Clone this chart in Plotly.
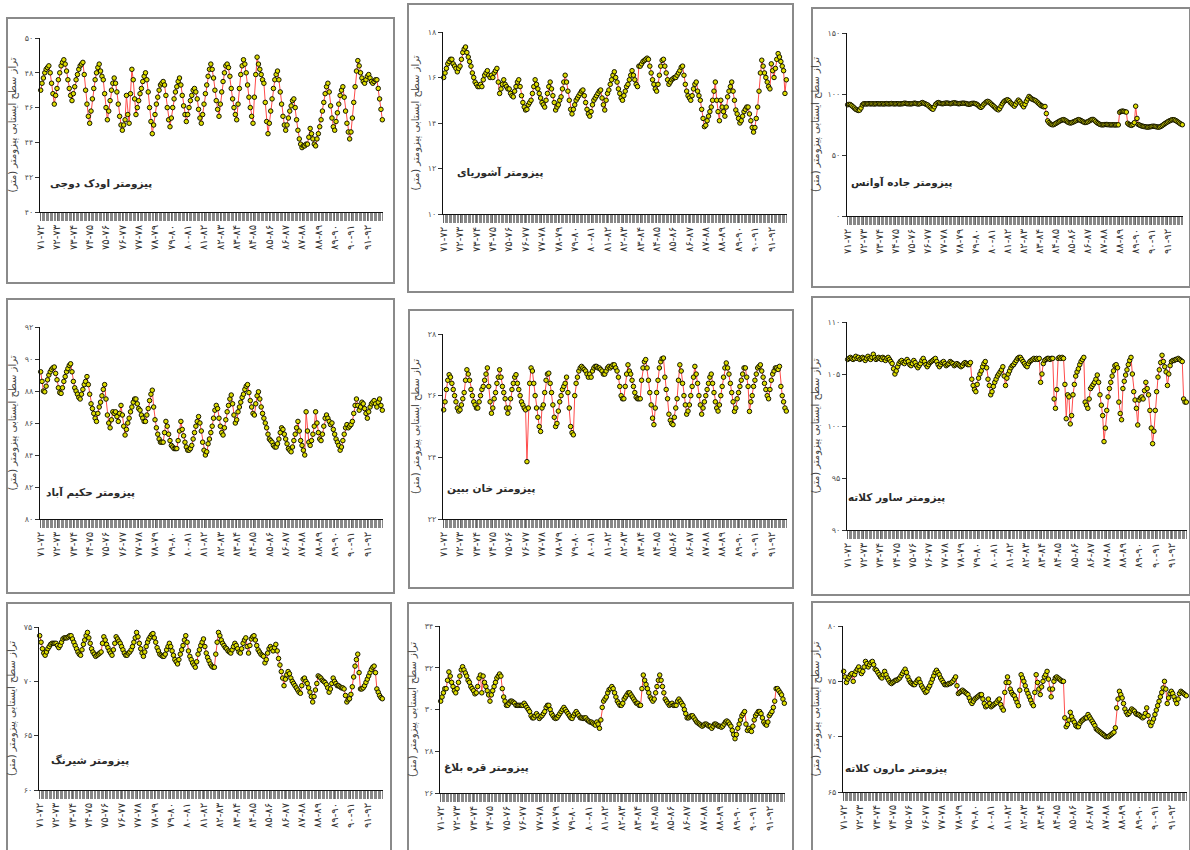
import plotly.graph_objects as go

# ---------------- data ----------------
YEAR_LABELS = ["۷۱-۷۲", "۷۲-۷۳", "۷۳-۷۴", "۷۴-۷۵", "۷۵-۷۶", "۷۶-۷۷", "۷۷-۷۸",
               "۷۸-۷۹", "۷۹-۸۰", "۸۰-۸۱", "۸۱-۸۲", "۸۲-۸۳", "۸۳-۸۴", "۸۴-۸۵",
               "۸۵-۸۶", "۸۶-۸۷", "۸۷-۸۸", "۸۸-۸۹", "۸۹-۹۰", "۹۰-۹۱", "۹۱-۹۲"]

TITLES = ["پیزومتر اودک دوجی", "پیزومتر آشوریای", "پیزومتر جاده آوانس",
          "پیزومتر حکیم آباد", "پیزومتر خان ببین", "پیزومتر ساور کلاته",
          "پیزومتر شیرنگ", "پیزومتر قره بلاغ", "پیزومتر مارون کلاته"]

Y_TITLE = "تراز سطح ایستابی پیزومتر (متر)"

ODAK_DOJI = [
    47.0, 47.4, 47.7, 48.0, 48.2, 48.3, 48.4, 48.0, 47.4, 46.8, 46.2, 46.7,
    47.1, 47.6, 48.0, 48.4, 48.6, 48.75, 48.5, 48.1, 47.6, 47.1, 46.7, 46.4,
    46.8, 47.2, 47.6, 47.9, 48.2, 48.4, 48.5, 48.6, 47.9, 47.0, 46.2, 45.5,
    45.1, 45.8, 46.5, 47.1, 47.6, 48.0, 48.3, 48.5, 48.1, 47.8, 47.6, 46.8,
    46.0, 45.3, 45.8, 46.4, 47.0, 47.4, 47.7, 47.4, 46.9, 46.2, 45.5, 45.0,
    44.7, 45.0, 45.3, 46.7, 45.6, 45.1, 46.8, 48.2, 47.6, 46.5, 45.6, 46.0,
    46.4, 46.8, 47.1, 47.5, 47.8, 48.0, 47.6, 46.9, 46.0, 45.2, 44.5, 45.0,
    45.6, 46.2, 46.6, 47.0, 47.3, 47.4, 47.5, 47.3, 46.7, 46.0, 45.3, 44.9,
    45.4, 46.0, 46.5, 46.9, 47.2, 47.5, 47.7, 47.3, 46.7, 46.1, 45.6, 45.2,
    45.6, 46.0, 46.4, 46.7, 47.0, 47.1, 46.9, 46.5, 45.9, 45.4, 45.1, 45.6,
    46.2, 46.8, 47.3, 47.8, 48.2, 48.5, 48.2, 47.7, 47.0, 46.4, 45.9, 45.5,
    46.2, 46.9, 47.5, 48.0, 48.4, 48.5, 48.3, 47.8, 47.1, 46.5, 46.0, 45.6,
    45.3, 46.2, 47.1, 47.9, 48.4, 48.75, 48.5, 48.0, 47.3, 46.6, 46.0, 45.5,
    45.1, 46.6, 47.9, 48.9, 48.5, 48.2, 47.9, 47.6, 47.4, 46.3, 45.2, 44.5,
    45.1, 45.8, 46.5, 47.1, 47.6, 47.9, 48.1, 47.6, 46.9, 46.2, 45.5, 45.0,
    44.7, 45.0, 45.4, 45.8, 46.1, 46.4, 46.5, 46.0, 45.3, 44.7, 44.2, 43.9,
    43.7, 43.8, 43.8, 43.9, 43.9, 44.3, 44.8, 44.5, 44.2, 43.9, 43.8, 44.2,
    44.5, 44.9, 45.3, 45.8, 46.3, 46.8, 47.2, 47.4, 46.9, 46.1, 45.4, 44.9,
    44.7, 45.2, 45.7, 46.2, 46.7, 47.0, 47.2, 46.6, 45.8, 45.1, 44.6, 44.2,
    44.6, 45.4, 46.3, 47.2, 48.1, 48.7, 48.4, 48.0, 47.7, 47.5, 47.4, 47.6,
    47.8, 47.9, 47.7, 47.5, 47.4, 47.5, 47.6, 47.6, 47.1, 46.5, 45.9, 45.3,
]

ASHURIAY = [
    16.0, 16.2, 16.4, 16.6, 16.7, 16.8, 16.8, 16.6, 16.5, 16.4, 16.25, 16.4,
    16.5, 16.8, 17.1, 17.25, 17.34, 17.1, 16.9, 16.7, 16.5, 16.2, 16.0, 15.8,
    15.7, 15.6, 15.6, 15.7, 15.6, 15.9, 16.1, 16.2, 16.3, 16.1, 16.0, 16.1,
    16.0, 16.2, 16.3, 16.4, 15.8, 15.3, 15.5, 15.7, 15.9, 15.7, 15.6, 15.5,
    15.5, 15.3, 15.2, 15.15, 15.4, 15.6, 15.8, 15.9, 15.6, 15.2, 14.9, 14.7,
    14.57, 14.6, 14.8, 14.9, 15.0, 15.3, 15.6, 15.9, 15.7, 15.5, 15.3, 15.1,
    14.9, 14.8, 14.7, 15.0, 15.3, 15.6, 15.8, 15.5, 15.2, 14.9, 14.57, 14.7,
    14.8, 15.0, 15.15, 15.5, 15.8, 16.1, 15.8, 15.4, 15.0, 14.6, 14.4, 14.6,
    14.8, 15.0, 15.1, 15.2, 15.3, 15.4, 15.45, 15.2, 14.9, 14.6, 14.4, 14.3,
    14.5, 14.8, 15.0, 15.1, 15.2, 15.3, 15.4, 15.45, 15.1, 14.8, 14.57, 15.0,
    15.3, 15.45, 15.7, 15.9, 16.1, 16.25, 16.0, 15.8, 15.5, 15.3, 15.1, 15.0,
    15.2, 15.4, 15.6, 15.7, 15.9, 16.1, 16.3, 16.1, 15.9, 15.7, 15.6, 16.5,
    16.5, 16.6, 16.7, 16.75, 16.8, 16.85, 16.8, 16.5, 16.2, 15.9, 15.7, 15.5,
    15.4, 15.7, 16.1, 16.5, 16.75, 16.8, 16.5, 16.2, 15.9, 15.7, 15.8, 15.9,
    15.95, 16.0, 16.0, 16.1, 16.2, 16.3, 16.45, 16.5, 16.1, 15.7, 15.4, 15.2,
    15.1, 15.0, 15.2, 15.5, 15.7, 15.8, 15.4, 15.2, 15.0, 14.6, 14.2, 13.84,
    13.9, 14.1, 14.3, 14.5, 14.7, 15.0, 15.4, 15.8, 15.0, 14.5, 14.1, 15.0,
    14.7, 14.5, 14.3, 14.7, 15.15, 15.4, 15.6, 15.8, 15.4, 15.0, 14.57, 14.4,
    14.2, 14.0, 14.1, 14.3, 14.5, 14.6, 14.7, 14.7, 14.4, 14.1, 13.8, 13.6,
    13.8, 14.2, 14.7, 15.4, 16.2, 16.76, 16.5, 16.2, 16.0, 15.8, 15.6, 15.5,
    16.6, 16.3, 16.0, 16.4, 16.8, 17.05, 16.9, 16.7, 16.5, 16.3, 15.3, 15.9,
]

JADEH_AVANES = [
    91.2, 91.5, 91.3, 90.5, 89.5, 88.5, 87.5, 87.0, 86.5, 86.8, 88.5, 91.0,
    92.0, 92.0, 91.8, 92.0, 92.1, 91.9, 92.0, 92.0, 91.8, 92.0, 92.1, 92.0,
    91.9, 92.0, 92.0, 91.8, 92.0, 92.1, 92.0, 91.9, 92.0, 92.2, 92.0, 91.9,
    92.0, 92.1, 92.0, 91.8, 92.0, 92.0, 92.3, 92.5, 92.2, 92.0, 92.0, 91.9,
    92.0, 92.2, 92.5, 92.3, 92.0, 91.8, 92.0, 92.4, 93.0, 92.5, 92.0, 91.5,
    91.0, 90.0, 89.0, 88.0, 87.5, 89.5, 91.5, 92.5, 93.0, 92.6, 92.2, 92.0,
    92.2, 92.4, 92.6, 92.5, 92.3, 92.0, 92.3, 92.6, 92.8, 92.5, 92.3, 92.0,
    92.1, 92.3, 92.4, 92.5, 92.3, 92.1, 91.8, 91.5, 91.8, 92.2, 92.4, 92.3,
    92.0, 91.5, 90.5, 89.5, 89.0, 90.0, 91.5, 92.5, 93.5, 94.0, 93.5, 92.5,
    91.5, 90.5, 89.5, 88.5, 87.5, 87.0, 88.0, 90.0, 92.0, 93.5, 94.5, 95.0,
    95.3, 94.5, 93.0, 92.0, 91.0, 90.0, 91.5, 93.5, 95.0, 94.0, 92.5, 91.0,
    89.5, 91.5, 94.0, 96.0, 98.0, 97.0, 96.0, 95.5, 95.0, 94.5, 93.5, 92.5,
    91.5, 90.5, 90.0, 89.5, 89.8, 84.0, 78.0, 76.5, 75.5, 75.0, 74.7, 75.2,
    75.8, 76.5, 77.2, 77.8, 78.3, 78.8, 79.0, 78.5, 77.8, 77.0, 76.5, 76.2,
    76.5, 77.0, 77.5, 78.0, 78.5, 79.0, 78.8, 78.2, 77.6, 77.0, 76.6, 76.8,
    77.2, 77.8, 78.5, 79.0, 79.2, 78.5, 77.5, 76.5, 75.8, 75.2, 74.8, 74.7,
    74.8, 75.0, 75.0, 74.9, 74.8, 74.7, 74.7, 74.8, 74.7, 74.6, 74.8, 74.7,
    85.0, 85.7, 86.0, 85.8, 85.5, 85.2, 76.0, 75.0, 74.5, 74.3, 75.0, 76.5,
    90.0, 80.0, 75.0, 74.5, 74.0, 73.6, 73.4, 73.2, 73.0, 72.8, 73.0, 73.2,
    73.4, 73.6, 73.5, 73.3, 73.0, 72.8, 73.0, 73.5, 74.2, 75.0, 75.8, 76.5,
    77.2, 77.8, 78.3, 78.8, 79.0, 78.8, 78.3, 77.6, 76.8, 76.0, 75.3, 74.8,
]

HAKIM_ABAD = [
    89.2, 88.6, 88.0, 87.95, 88.3, 88.7, 89.0, 89.2, 89.35, 89.45, 89.5, 89.1,
    88.7, 88.2, 87.9, 87.85, 88.2, 88.6, 88.9, 89.2, 89.4, 89.6, 89.7, 89.2,
    88.6, 88.2, 88.0, 87.8, 87.6, 87.5, 87.8, 88.1, 88.4, 88.6, 88.9, 88.4,
    87.8, 87.2, 86.9, 86.6, 86.3, 86.1, 86.6, 87.0, 87.3, 87.7, 88.1, 88.4,
    87.5, 86.5, 86.0, 85.7, 86.2, 86.7, 86.6, 86.7, 86.4, 86.1, 86.6, 87.1,
    86.5, 85.8, 85.25, 85.6, 86.0, 86.3, 86.7, 87.0, 87.3, 87.5, 87.5, 87.2,
    86.9, 86.8, 86.5, 86.3, 86.1, 86.1, 86.5, 86.9, 87.4, 87.8, 88.05, 87.0,
    86.2, 85.7, 85.3, 85.0, 84.8, 84.8, 84.8, 85.4, 86.1, 85.8, 85.3, 84.9,
    84.6, 84.5, 84.4, 84.4, 84.4, 84.9, 85.5, 86.1, 85.6, 85.2, 84.8, 84.5,
    84.3, 84.3, 84.4, 84.6, 85.0, 85.4, 85.8, 86.1, 86.4, 86.0, 85.5, 84.8,
    84.3, 84.0, 84.2, 84.7, 85.0, 85.4, 85.8, 86.3, 86.8, 87.1, 86.9, 86.3,
    85.8, 85.4, 85.25, 85.7, 86.2, 86.7, 87.1, 87.5, 87.75, 87.2, 86.5, 86.0,
    86.2, 86.7, 87.0, 87.3, 87.6, 87.8, 88.1, 88.3, 88.4, 87.9, 87.4, 87.0,
    86.6, 86.5, 87.2, 87.7, 87.95, 87.5, 87.0, 86.6, 86.3, 86.0, 85.7, 85.3,
    85.0, 84.9, 84.8, 84.6, 84.5, 84.5, 84.7, 85.0, 85.4, 85.7, 85.6, 85.3,
    85.0, 84.7, 84.4, 84.3, 84.2, 84.5, 84.9, 85.3, 85.7, 86.1, 85.5, 84.9,
    84.6, 84.3, 84.0, 86.7, 85.5, 84.8, 84.6, 84.9, 85.3, 85.8, 86.7, 86.0,
    85.4, 85.0, 84.9, 85.3, 85.8, 86.3, 86.5, 86.3, 86.1, 85.9, 86.0, 85.6,
    85.3, 85.0, 84.8, 84.6, 84.3, 84.5, 84.9, 85.3, 85.7, 85.9, 85.7, 85.8,
    85.9, 86.1, 86.6, 87.1, 87.5, 87.1, 86.8, 87.0, 87.3, 87.2, 86.9, 86.6,
    86.3, 86.7, 87.0, 87.2, 87.3, 87.4, 87.2, 87.0, 87.3, 87.5, 87.1, 86.8,
]

KHAN_BEBIN = [
    25.54, 25.8, 26.2, 26.5, 26.68, 26.6, 26.4, 26.2, 26.0, 25.8, 25.6, 25.5,
    25.54, 25.7, 25.9, 26.1, 26.5, 26.84, 26.7, 26.5, 26.2, 26.0, 25.8, 25.7,
    25.6, 25.6, 25.8, 26.0, 26.2, 26.3, 26.5, 26.7, 26.9, 26.3, 25.8, 25.43,
    25.6, 25.9, 26.1, 26.4, 26.6, 26.84, 26.6, 26.3, 26.1, 25.9, 25.6, 25.43,
    25.6, 25.9, 26.2, 26.4, 26.6, 26.68, 26.4, 26.2, 26.0, 25.8, 25.7, 25.6,
    25.54, 23.86, 25.6, 26.4, 26.9, 26.8, 26.4, 26.0, 25.6, 25.3, 25.0, 24.84,
    25.6, 25.7, 26.1, 26.5, 26.7, 26.73, 26.4, 26.1, 25.7, 25.3, 25.0, 25.1,
    25.5, 25.8, 26.0, 26.2, 26.3, 26.4, 26.6, 26.1, 25.6, 25.0, 24.8, 24.73,
    26.0, 26.4, 26.6, 26.8, 26.9, 26.95, 26.9, 26.85, 26.8, 26.7, 26.6, 26.7,
    26.6, 26.8, 26.9, 26.95, 26.95, 26.9, 26.9, 26.85, 26.8, 26.7, 26.7, 26.8,
    26.9, 26.95, 26.9, 26.95, 27.0, 27.0, 26.9, 26.8, 26.6, 26.3, 26.0, 25.9,
    25.9, 26.3, 26.7, 27.0, 26.8, 26.7, 26.5, 26.3, 26.1, 25.95, 25.9, 25.9,
    25.9, 26.5, 26.9, 27.1, 27.17, 26.9, 26.5, 26.1, 25.7, 25.27, 25.06, 25.6,
    26.1, 26.5, 26.9, 27.1, 27.2, 27.22, 26.6, 26.2, 25.9, 25.4, 25.2, 25.1,
    25.06, 25.3, 25.6, 25.9, 26.5, 27.0, 26.8, 26.4, 26.0, 25.7, 25.4, 25.5,
    25.7, 26.0, 26.3, 26.6, 26.95, 26.7, 26.4, 26.0, 25.7, 25.4, 25.6, 25.8,
    26.0, 26.2, 26.4, 26.6, 26.7, 26.4, 26.1, 25.8, 25.6, 25.5, 25.7, 26.0,
    26.3, 26.6, 26.9, 27.06, 26.9, 26.7, 26.4, 26.1, 25.8, 25.49, 25.6, 25.9,
    26.1, 26.3, 26.5, 26.7, 26.9, 26.9, 26.6, 26.3, 25.49, 25.8, 26.0, 26.3,
    26.5, 26.7, 26.9, 26.95, 27.0, 26.8, 26.6, 26.4, 26.2, 26.0, 25.9, 26.2,
    26.5, 26.7, 26.8, 26.9, 26.9, 26.85, 26.95, 26.3, 26.0, 25.8, 25.6, 25.5,
]

SAVAR_KALATEH = [
    106.4, 106.5, 106.6, 106.5, 106.4, 106.5, 106.7, 106.5, 106.6, 106.4, 106.5, 106.6,
    106.5, 106.3, 106.5, 106.7, 106.5, 106.4, 106.6, 106.9, 106.6, 106.4, 106.5, 106.6,
    106.5, 106.4, 106.6, 106.5, 106.3, 106.5, 106.6, 106.4, 106.2, 106.0, 105.5, 105.0,
    105.3, 105.7, 106.0, 106.2, 106.3, 106.1, 106.0, 106.2, 106.4, 106.2, 105.9, 105.8,
    106.0, 106.3, 106.1, 105.8, 105.6, 105.8, 106.0, 106.3, 106.5, 106.2, 105.9, 105.7,
    105.9, 106.1, 106.2, 106.3, 106.4, 106.5, 106.2, 105.9, 105.7, 105.9, 106.1, 106.2,
    106.0, 105.8, 105.9, 106.0, 106.2, 106.1, 106.0, 105.8, 105.9, 106.0, 105.9, 105.8,
    105.7, 105.8, 106.0, 106.1, 106.0, 105.9, 105.9, 106.1, 104.5, 103.9, 103.5, 103.3,
    104.0, 104.6, 105.0, 105.3, 105.7, 106.0, 106.2, 105.6, 104.5, 103.9, 103.0, 103.3,
    103.8, 104.2, 104.5, 104.8, 105.0, 105.2, 105.4, 105.7, 104.8, 103.9, 104.6, 105.0,
    105.3, 105.6, 105.8, 105.9, 106.1, 106.3, 106.5, 106.6, 106.6, 106.4, 106.2, 106.0,
    105.8, 105.7, 106.0, 106.2, 106.3, 106.4, 106.5, 106.4, 106.5, 106.4, 106.5, 104.2,
    105.0, 106.0, 106.3, 106.4, 106.5, 106.5, 106.4, 106.5, 106.5, 102.6, 101.7, 103.5,
    106.5, 106.6, 106.5, 106.6, 106.5, 104.0, 100.7, 103.0, 102.8, 100.2, 101.0, 103.0,
    104.0, 104.8, 105.2, 105.5, 105.9, 106.2, 106.4, 106.6, 102.3, 102.0, 101.7, 102.6,
    103.6, 103.8, 104.0, 104.2, 104.5, 104.9, 104.2, 103.0, 102.0, 101.0, 98.5, 99.8,
    101.5, 102.8, 103.6, 104.2, 104.8, 105.3, 105.8, 105.9, 105.6, 102.3, 101.2, 100.6,
    103.6, 104.3, 104.9, 105.4, 105.9, 106.3, 106.6, 105.0, 103.3, 102.5, 101.7, 100.1,
    102.5, 102.7, 102.8, 102.6, 103.4, 104.2, 103.6, 103.0, 101.5, 99.8, 98.3, 99.5,
    101.5, 103.3, 104.7, 105.4, 106.1, 106.8, 106.2, 105.7, 105.2, 103.9, 105.0, 105.8,
    106.2, 106.3, 106.3, 106.4, 106.4, 106.5, 106.4, 106.3, 106.2, 102.6, 102.3, 102.3,
]

SHIRANG = [
    74.2, 73.6, 73.0, 72.6, 72.4, 72.7, 73.0, 73.2, 73.4, 73.5, 73.5, 73.5,
    73.5, 73.3, 73.1, 73.3, 73.6, 73.9, 74.0, 74.0, 74.0, 74.1, 74.2, 74.2,
    73.9, 73.6, 73.3, 73.0, 72.7, 72.5, 72.4, 72.9, 73.4, 73.8, 74.2, 74.5,
    74.0, 73.5, 73.0, 72.7, 72.5, 72.3, 72.4, 72.5, 72.6, 72.7, 73.5, 74.1,
    73.8, 73.4, 73.1, 72.8, 72.6, 72.4, 72.9, 73.5, 74.1, 73.9, 73.7, 73.5,
    73.2, 72.9, 72.6, 72.4, 72.4, 72.6, 72.7, 72.9, 73.2, 73.6, 74.0, 74.5,
    74.1, 73.5, 73.0, 72.6, 72.3, 72.7, 73.2, 73.6, 73.9, 74.1, 74.3, 74.4,
    74.0, 73.6, 73.1, 72.8, 72.5, 72.4, 72.3, 72.3, 72.5, 72.9, 73.2, 73.5,
    73.2, 72.8, 72.4, 72.0, 71.8, 71.6, 72.0, 72.5, 72.9, 73.3, 73.8, 74.2,
    73.6, 72.8, 72.3, 72.0, 71.7, 71.5, 71.3, 71.8, 72.5, 72.9, 73.3, 73.6,
    73.9, 73.2, 72.6, 72.2, 71.9, 71.6, 71.4, 71.3, 71.3, 72.5, 73.6, 74.5,
    74.2, 73.8, 73.5, 73.3, 73.1, 73.0, 72.8, 72.7, 72.6, 72.9, 73.2, 73.5,
    73.3, 73.0, 72.7, 72.6, 73.0, 73.5, 73.8, 74.0, 73.2, 72.6, 73.3, 73.9,
    74.1, 74.2, 73.8, 73.3, 72.9, 72.7, 72.5, 72.4, 72.3, 71.7, 72.0, 72.6,
    73.0, 73.2, 73.0, 72.8, 73.1, 73.4, 72.8, 72.1, 71.5, 70.9, 70.3, 69.6,
    70.2, 70.6, 70.9, 70.7, 70.3, 70.0, 69.8, 69.6, 69.4, 69.2, 69.0, 68.9,
    69.6, 70.2, 70.3, 70.0, 69.8, 69.4, 69.0, 68.6, 68.1, 68.6, 69.2, 69.8,
    70.5, 70.4, 70.3, 70.1, 70.0, 69.9, 69.7, 69.4, 69.0, 69.3, 69.8, 70.3,
    70.0, 69.8, 69.6, 69.6, 69.5, 69.4, 69.4, 69.3, 68.7, 68.1, 68.3, 68.4,
    68.8, 69.5, 70.4, 71.4, 72.0, 72.5, 70.8, 69.3, 69.3, 69.4, 69.6, 69.9,
    70.2, 70.5, 70.8, 71.1, 71.3, 71.4, 70.8, 69.3, 69.0, 68.7, 68.5, 68.4,
]

GHAREH_BOLAGH = [
    30.4, 30.6, 30.8, 31.0, 31.0, 31.4, 31.8, 31.6, 31.3, 31.1, 30.9, 30.8,
    31.0, 31.3, 31.6, 31.9, 32.05, 31.9, 31.75, 31.6, 31.4, 31.3, 31.1, 31.0,
    30.9, 30.75, 30.8, 31.1, 31.5, 31.65, 30.8, 31.6, 31.3, 31.1, 30.9, 30.7,
    30.4, 30.7, 30.9, 31.1, 31.3, 31.5, 31.6, 31.7, 31.6, 31.0, 30.6, 30.4,
    30.2, 30.2, 30.3, 30.4, 30.4, 30.35, 30.3, 30.2, 30.2, 30.2, 30.2, 30.2,
    30.2, 30.3, 30.2, 30.1, 30.0, 29.9, 29.7, 29.6, 29.6, 29.7, 29.8, 29.7,
    29.57, 29.65, 29.7, 29.8, 29.9, 30.1, 30.2, 30.2, 30.0, 29.8, 29.7, 29.6,
    29.57, 29.6, 29.7, 29.8, 29.9, 30.0, 30.1, 30.0, 29.9, 29.8, 29.7, 29.6,
    29.57, 29.7, 29.8, 29.9, 29.8, 29.7, 29.6, 29.6, 29.57, 29.6, 29.6, 29.5,
    29.45, 29.4, 29.4, 29.35, 29.3, 29.25, 29.4, 29.3, 29.1, 29.5, 30.1, 30.4,
    30.5, 30.6, 30.8, 30.95, 31.0, 31.1, 31.0, 30.8, 30.6, 30.4, 30.3, 30.2,
    30.2, 30.3, 30.5, 30.6, 30.7, 30.8, 30.8, 30.7, 30.6, 30.5, 30.4, 30.3,
    30.3, 30.2, 30.2, 31.0, 31.65, 31.4, 31.2, 31.0, 30.8, 30.6, 30.5, 30.4,
    30.5, 30.8, 31.1, 31.4, 31.65, 31.4, 31.1, 30.8, 30.5, 30.4, 30.3, 30.2,
    30.25, 30.3, 30.2, 30.2, 30.2, 30.4, 30.5, 30.4, 30.3, 30.2, 30.0, 29.8,
    29.6, 29.6, 29.65, 29.7, 29.7, 29.6, 29.5, 29.4, 29.35, 29.3, 29.25, 29.2,
    29.25, 29.3, 29.3, 29.25, 29.2, 29.2, 29.1, 29.2, 29.3, 29.3, 29.25, 29.2,
    29.2, 29.15, 29.2, 29.3, 29.4, 29.45, 29.4, 29.3, 29.2, 29.0, 28.8, 28.6,
    28.8, 29.1, 29.3, 29.5, 29.7, 29.8, 29.9, 29.3, 29.0, 29.1, 29.0, 28.95,
    29.2, 29.5, 29.7, 29.8, 29.9, 29.9, 29.8, 29.6, 29.4, 29.3, 29.25, 29.4,
    29.7, 29.8, 29.9, 30.1, 30.4, 31.0, 31.0, 30.9, 30.8, 30.7, 30.5, 30.3,
]

MARUN_KALATEH = [
    75.9, 75.4, 74.9, 75.2, 75.4, 75.6, 75.7, 75.0, 75.6, 75.9, 76.1, 76.3,
    76.0, 75.7, 75.9, 76.3, 76.8, 76.6, 76.3, 76.5, 76.7, 76.8, 76.5, 76.1,
    76.0, 75.8, 75.6, 75.4, 75.3, 75.6, 75.9, 75.6, 75.3, 75.1, 74.9, 74.8,
    74.9, 75.0, 75.1, 75.1, 75.2, 75.3, 75.5, 75.7, 75.9, 76.1, 75.8, 75.4,
    75.1, 74.9, 74.8, 74.7, 74.7, 74.9, 75.1, 75.2, 74.9, 74.6, 74.4, 74.2,
    74.0, 74.1, 74.4, 74.6, 74.9, 75.2, 75.5, 75.8, 76.0, 75.8, 75.6, 75.3,
    75.1, 74.9, 74.7, 74.7, 74.7, 74.8, 74.8, 74.9, 75.0, 75.2, 75.4, 74.6,
    73.9, 74.0, 74.1, 74.2, 74.1, 74.0, 73.9, 73.8, 73.5, 73.2, 73.0, 73.2,
    73.4, 73.5, 73.6, 73.7, 73.8, 73.8, 73.4, 73.0, 72.7, 72.8, 73.4, 73.0,
    72.7, 72.8, 72.9, 73.0, 73.1, 73.3, 73.4, 72.9, 72.6, 72.4, 74.0, 74.9,
    75.4, 74.9, 74.3, 74.0, 73.8, 73.7, 73.4, 73.1, 72.8, 74.2, 75.6, 75.3,
    75.0, 74.6, 74.2, 73.9, 73.6, 73.3, 73.0, 72.8, 74.0, 75.6, 74.9, 74.3,
    73.8, 74.5, 75.0, 75.4, 75.6, 75.9, 75.2, 74.3, 73.6, 74.3, 75.0, 75.3,
    75.4, 75.3, 75.2, 75.1, 75.0, 75.0, 71.7, 70.9, 71.1, 71.5, 72.2, 71.8,
    71.5, 71.3, 71.0, 70.9, 70.9, 71.2, 71.4, 71.5, 71.6, 71.7, 71.7, 72.0,
    71.8, 71.6, 71.4, 71.2, 71.0, 70.7, 70.6, 70.5, 70.4, 70.3, 70.2, 70.1,
    70.0, 70.0, 70.0, 70.1, 70.2, 70.3, 70.4, 70.8, 72.6, 73.4, 74.1, 73.8,
    73.5, 73.0, 72.5, 72.2, 72.0, 72.1, 72.3, 72.5, 72.4, 72.3, 72.1, 72.0,
    72.0, 71.9, 71.8, 71.7, 71.8, 72.1, 72.6, 71.9, 71.3, 71.0, 71.3, 71.6,
    72.0, 72.4, 72.8, 73.2, 73.6, 74.0, 74.4, 75.0, 74.3, 73.0, 73.5, 73.9,
    74.1, 73.9, 73.6, 73.3, 73.0, 73.4, 73.9, 74.1, 74.0, 73.9, 73.8, 73.7,
]

SERIES = [ODAK_DOJI, ASHURIAY, JADEH_AVANES, HAKIM_ABAD, KHAN_BEBIN,
          SAVAR_KALATEH, SHIRANG, GHAREH_BOLAGH, MARUN_KALATEH]

# y-axis scale (min, max, step) for each panel
Y_SCALES = [(40, 50, 2), (10, 18, 2), (0, 150, 50), (80, 92, 2), (22, 28, 2),
            (90, 110, 5), (60, 75, 5), (26, 34, 2), (65, 80, 5)]

# ---------------- layout (pixel geometry) ----------------
W, H = 1190, 850
PLOT_BOX = [(40, 383, 38, 212), (443, 787, 32, 214), (847, 1183, 33, 216),
            (40, 383, 327, 519), (443, 787, 334, 519), (847, 1187, 322, 530),
            (39, 383, 627, 790), (440, 785, 626, 793), (843, 1187, 626, 792)]
TITLE_POS = [(101, 183), (500, 172), (902, 182), (90, 492), (491, 488),
             (896, 497), (90, 760), (486, 767), (896, 768)]
FRAMES = [(7, 18, 394, 283), (408, 4, 793, 292), (812, 8, 1190, 287),
          (7, 299, 394, 593), (409, 310, 793, 588), (812, 297, 1190, 595),
          (7, 603, 391, 852), (408, 603, 793, 852), (812, 602, 1190, 852)]

FA = str.maketrans("0123456789", "۰۱۲۳۴۵۶۷۸۹")
FONT = "DejaVu Sans"

fig = go.Figure()
layout = dict(width=W, height=H, margin=dict(l=0, r=0, t=0, b=0, autoexpand=False),
              paper_bgcolor="white", plot_bgcolor="white", showlegend=False,
              annotations=[], shapes=[])

for i, series in enumerate(SERIES):
    n = i + 1
    xa = "x" if n == 1 else f"x{n}"
    ya = "y" if n == 1 else f"y{n}"
    xl, xr, yt, yb = PLOT_BOX[i]
    ymin, ymax, step = Y_SCALES[i]
    months = list(range(len(series)))

    fig.add_trace(go.Scatter(
        x=months, y=series, mode="lines+markers", xaxis=xa, yaxis=ya,
        line=dict(color="#ff4b4b", width=1),
        marker=dict(size=4.5, color="#dede00", line=dict(color="#141400", width=1)),
        cliponaxis=False, hoverinfo="skip"))

    yvals = list(range(ymin, ymax + step, step))
    layout[f"xaxis{n}"] = dict(
        domain=[xl / W, xr / W], anchor=ya, range=[-0.5, len(series) - 0.5],
        automargin=False,
        tickmode="array", tickvals=[12 * k for k in range(len(YEAR_LABELS))],
        ticktext=YEAR_LABELS, tickangle=-90,
        ticks="outside", ticklen=8, tickwidth=1, tickcolor="#666",
        minor=dict(tickmode="linear", tick0=0, dtick=1, ticks="outside",
                   ticklen=8, tickwidth=1, tickcolor="#888"),
        showline=True, linecolor="#111", linewidth=1,
        showgrid=False, zeroline=False,
        tickfont=dict(family=FONT, size=10, color="#333"))
    layout[f"yaxis{n}"] = dict(
        domain=[1 - yb / H, 1 - yt / H], anchor=xa, range=[ymin, ymax],
        automargin=False,
        tickmode="array", tickvals=yvals,
        ticktext=[str(v).translate(FA) for v in yvals],
        ticks="outside", ticklen=4, tickwidth=1, tickcolor="#333",
        showline=True, linecolor="#111", linewidth=1,
        showgrid=False, zeroline=False,
        tickfont=dict(family=FONT, size=8, color="#555"),
        title=dict(text=Y_TITLE, font=dict(family=FONT, size=10, color="#444"),
                   standoff=6))

    tx, ty = TITLE_POS[i]
    layout["annotations"].append(dict(
        text="<b>" + TITLES[i] + "</b>", xref="paper", yref="paper",
        x=tx / W, y=1 - ty / H, xanchor="center", yanchor="middle",
        showarrow=False, font=dict(family=FONT, size=10.5, color="#2a2a2a")))

    fx0, fy0, fx1, fy1 = FRAMES[i]
    layout["shapes"].append(dict(
        type="rect", xref="paper", yref="paper",
        x0=fx0 / W, x1=fx1 / W, y0=1 - fy1 / H, y1=1 - fy0 / H,
        line=dict(color="#8a8a8a", width=2), fillcolor="rgba(0,0,0,0)"))

fig.update_layout(**layout)
fig.write_html("out.html", config={"displayModeBar": False},
               post_script="document.body.style.margin='0';document.body.style.overflow='hidden';")
